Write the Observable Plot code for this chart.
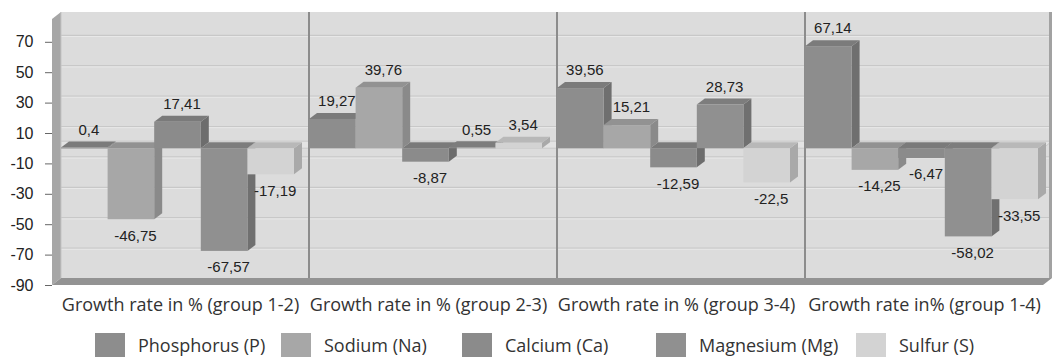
<!DOCTYPE html>
<html>
<head>
<meta charset="utf-8">
<script src="https://cdn.jsdelivr.net/npm/d3@7"></script>
<script src="https://cdn.jsdelivr.net/npm/@observablehq/plot@0.6"></script>
<style>
  html, body { margin: 0; padding: 0; background: #fff; }
  body { width: 1053px; height: 362px; overflow: hidden; }
  #legend { position: relative; height: 40px; font-family: "Open Sans", sans-serif; font-size: 18px; color: #333; }
  #legend .item { position: absolute; top: 11px; display: flex; align-items: center; white-space: nowrap; }
  #legend .sw { width: 30px; height: 24px; margin-right: 13px; }
</style>
</head>
<body>
<div id="chart"></div>
<div id="legend"></div>
<script>
// ---- data ----
const groups = [
  "Growth rate in % (group 1-2)",
  "Growth rate in % (group 2-3)",
  "Growth rate in % (group 3-4)",
  "Growth rate in% (group 1-4)"
];
const nutrients = ["Phosphorus (P)", "Sodium (Na)", "Calcium (Ca)", "Magnesium (Mg)", "Sulfur (S)"];
const phosphorus = [0.4, 19.27, 39.56, 67.14];
const sodium     = [-46.75, 39.76, 15.21, -14.25];
const calcium    = [17.41, -8.87, -12.59, -6.47];
const magnesium  = [-67.57, 0.55, 28.73, -58.02];
const sulfur     = [-17.19, 3.54, -22.5, -33.55];
const yTicks = [70, 50, 30, 10, -10, -30, -50, -70, -90];
const yDomain = [-90, 85];

// ---- styles ----
const frontColors = ["#8d8d8d", "#a7a7a7", "#8b8b8b", "#909090", "#d3d3d3"];
const topColors   = ["#7b7b7b", "#929292", "#7a7a7a", "#7d7d7d", "#b8b8b8"];
const sideColors  = ["#6f6f6f", "#8a8a8a", "#6d6d6d", "#707070", "#a9a9a9"];
const legendLeft  = [95, 281, 462, 656, 856];
const DX = 9, DY = -7;      // wall depth
const BDX = 8, BDY = -6;    // bar depth

const series = [phosphorus, sodium, calcium, magnesium, sulfur];
const data = [];
groups.forEach((g, gi) => nutrients.forEach((n, ni) => data.push({group: g, nutrient: n, k: ni, value: series[ni][gi]})));
const fmt = v => String(v).replace(".", ",");

function walls(I, scales, values, dim) {
  const y = scales.y, fx = scales.fx;
  const L = fx(groups[0]);
  const R = fx(groups[groups.length - 1]) + fx.bandwidth();
  const g = d3.create("svg:g");
  const topY = y(yDomain[1]), botY = y(yDomain[0]);
  // back wall
  g.append("rect").attr("x", L).attr("y", topY + DY).attr("width", R - 3 - L).attr("height", botY - topY)
    .attr("fill", "#dcdcdc");
  // gridlines on back wall
  for (const v of yTicks) if (v > yDomain[0]) {
    g.append("line").attr("x1", L).attr("x2", R - 3).attr("y1", y(v) + DY + 0.5).attr("y2", y(v) + DY + 0.5)
      .attr("stroke", "#c8c8c8").attr("stroke-width", 1.2);
    g.append("line").attr("x1", L).attr("x2", R - 3).attr("y1", y(v) + DY + 1.7).attr("y2", y(v) + DY + 1.7)
      .attr("stroke", "#e8e8e8").attr("stroke-width", 1);
  }
  // zero plane strip
  const y0 = y(0);
  g.append("polygon").attr("points", [[L - DX, y0], [L, y0 + DY], [R - 1, y0 + DY], [R - 1 - DX, y0]].join(" "))
    .attr("fill", "#e3e3e3").attr("stroke", "#c4c4c4").attr("stroke-width", 0.8);
  // group separators
  groups.forEach((gr, i) => {
    if (i === 0) return;
    const x = fx(gr);
    g.append("line").attr("x1", x).attr("x2", x).attr("y1", topY + DY).attr("y2", botY + DY)
      .attr("stroke", "#8c8c8c").attr("stroke-width", 2);
  });
  // right border
  g.append("line").attr("x1", R - 2.5).attr("x2", R - 2.5).attr("y1", topY + DY).attr("y2", botY + DY)
    .attr("stroke", "#a2a2a2").attr("stroke-width", 3);
  // left wall
  g.append("polygon").attr("points", [[L - DX, topY], [L, topY + DY], [L, botY + DY], [L - DX, botY]].join(" "))
    .attr("fill", "#a6a6a6");
  g.append("line").attr("x1", L).attr("x2", L).attr("y1", topY + DY).attr("y2", botY + DY)
    .attr("stroke", "#c4c4c4").attr("stroke-width", 1);
  // floor
  g.append("polygon").attr("points", [[L - DX, botY], [L, botY + DY], [R - 1, botY + DY], [R - 1 - DX, botY]].join(" "))
    .attr("fill", "#939393");
  return g.node();
}

function bars3d(I, scales) {
  const g = d3.create("svg:g");
  const w = scales.x.bandwidth();
  for (const i of I) {
    const d = data[i];
    const x0 = scales.x(d.nutrient);
    const ya = scales.y(0), yb = scales.y(d.value);
    const t = Math.min(ya, yb), b = Math.max(ya, yb);
    g.append("polygon").attr("points", [[x0 + w, t], [x0 + w + BDX, t + BDY], [x0 + w + BDX, b + BDY], [x0 + w, b]].join(" "))
      .attr("fill", sideColors[d.k]);
    g.append("polygon").attr("points", [[x0, t], [x0 + BDX, t + BDY], [x0 + w + BDX, t + BDY], [x0 + w, t]].join(" "))
      .attr("fill", topColors[d.k]);
    g.append("rect").attr("x", x0).attr("y", t).attr("width", w).attr("height", Math.max(0.8, b - t))
      .attr("fill", frontColors[d.k]);
  }
  return g.node();
}

const labelFont = '"Liberation Sans", Arial, sans-serif';

const chart = Plot.plot({
  width: 1053,
  height: 322,
  marginLeft: 61,
  marginRight: 0,
  marginTop: 19,
  marginBottom: 37,
  style: {background: "#fff", overflow: "visible"},
  fx: {domain: groups, padding: 0, round: false},
  x: {domain: nutrients, padding: 0, insetRight: 15, round: false, axis: null},
  y: {domain: yDomain},
  marks: [
    Plot.dot([groups[0]], {fx: d => d, x: () => nutrients[0], y: () => 0, render: walls}),
    Plot.barY(data, {fx: "group", x: "nutrient", y: "value", render: bars3d}),
    Plot.text(data.filter(d => d.value >= 0), {
      fx: "group", x: "nutrient", y: "value", text: d => fmt(d.value),
      dx: 4, dy: -18, fontSize: 15, fontFamily: labelFont, fill: "#222"
    }),
    Plot.text(data.filter(d => d.value < 0), {
      fx: "group", x: "nutrient", y: "value", text: d => fmt(d.value),
      dx: 4, dy: 16, fontSize: 15, fontFamily: labelFont, fill: "#222"
    }),
    Plot.axisY({
      ticks: yTicks, tickFormat: d => String(d), tickSize: 7, tickPadding: 12, dx: -DX,
      fontSize: 16, fontFamily: labelFont, color: "#222", stroke: "#666", label: null
    }),
    Plot.axisFx({
      anchor: "bottom", tickSize: 0, tickPadding: 13, dx: -5, label: null,
      fontSize: 18, fontFamily: '"Open Sans", sans-serif', color: "#333"
    })
  ]
});
document.getElementById("chart").appendChild(chart);

// legend
const legend = d3.select("#legend");
nutrients.forEach((n, i) => {
  const it = legend.append("div").attr("class", "item").style("left", legendLeft[i] + "px");
  it.append("div").attr("class", "sw").style("background", frontColors[i]);
  it.append("div").text(n);
});
</script>
</body>
</html>
